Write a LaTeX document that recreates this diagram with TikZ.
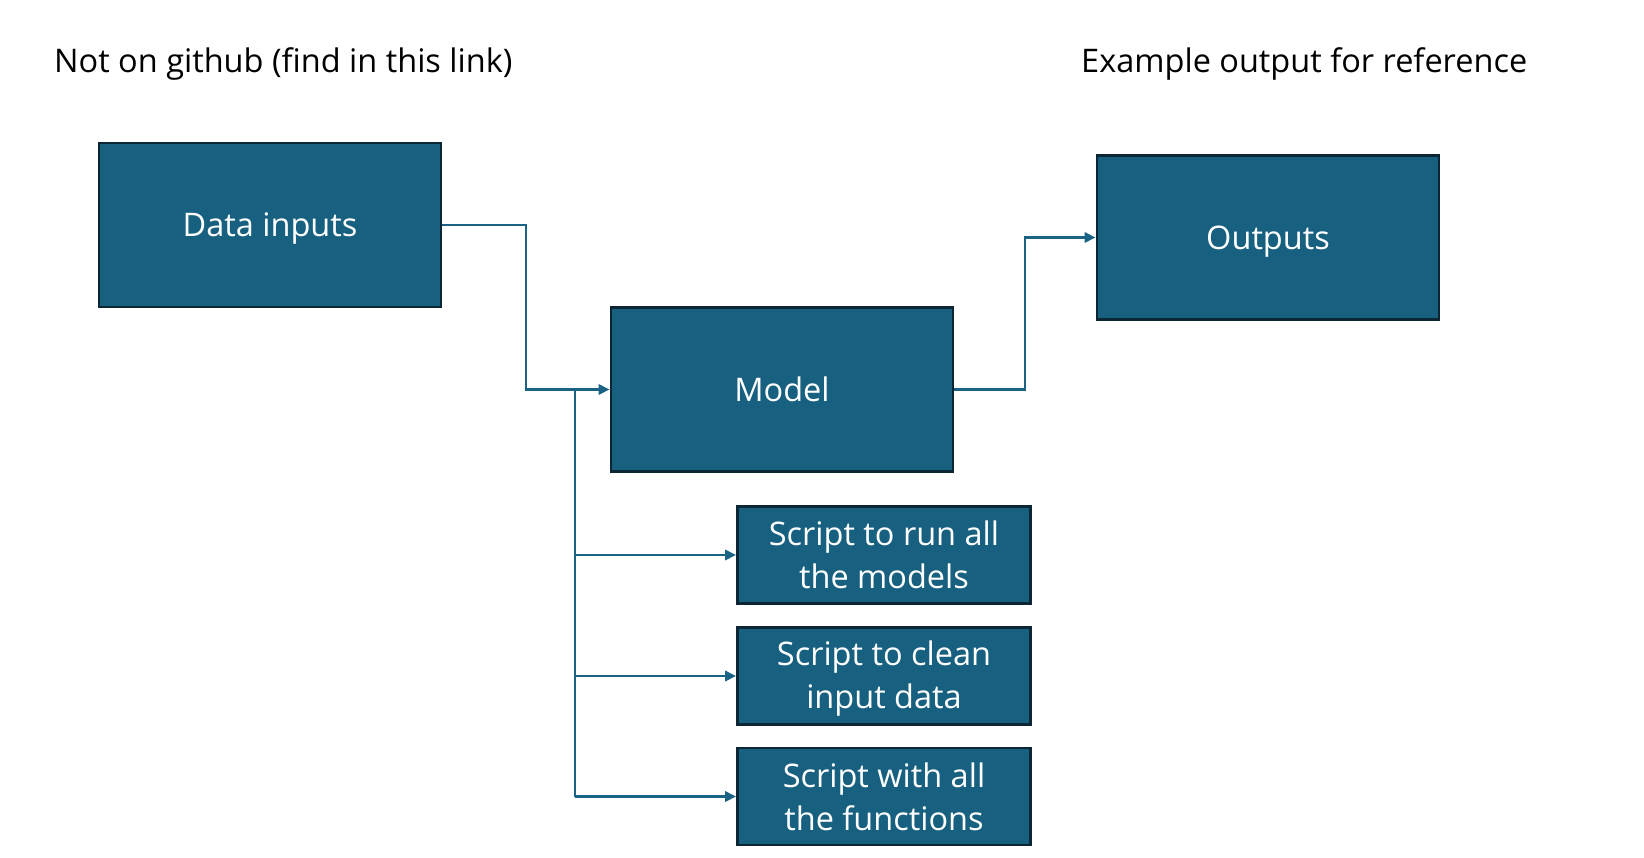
\documentclass[tikz,border=0pt]{standalone}
\usepackage{fontspec}
\setmainfont{Open Sans}
\usetikzlibrary{arrows.meta}
\definecolor{boxfill}{HTML}{17607F}
\definecolor{boxedge}{HTML}{0C2636}
\definecolor{linecol}{HTML}{1A6385}
\begin{document}
\begin{tikzpicture}[x=1pt,y=-1pt,
  bx/.style={draw=boxedge,line width=2.6pt,fill=boxfill,inner sep=0pt},
  lbl/.style={text=white,font=\fontsize{32.5}{43}\selectfont,align=center,inner sep=0pt},
  one/.style={lbl,text height=23.2pt,text depth=0pt},
  conn/.style={draw=linecol,line width=2.6pt},
  arr/.style={conn,-{Triangle[length=11pt,width=10pt]}},
  hdr/.style={font=\fontsize{32.5}{36}\selectfont,anchor=west,inner sep=0pt}]
\useasboundingbox (0,0) rectangle (1644,858);
\node[bx,minimum width=342pt,minimum height=164pt] (data) at (270,225) {};
\node[bx,minimum width=342pt,minimum height=164pt] (model) at (782,389.5) {};
\node[bx,minimum width=342pt,minimum height=164pt] (out) at (1268,237.5) {};
\node[bx,minimum width=293pt,minimum height=97pt] (s1) at (884,555) {};
\node[bx,minimum width=293pt,minimum height=97pt] (s2) at (884,676) {};
\node[bx,minimum width=293pt,minimum height=97pt] (s3) at (884,796.5) {};
\node[one] (tdata) at (data.center) {Data inputs};
\node[one] (tmodel) at (model.center) {Model};
\node[one] (tout) at (out.center) {Outputs};
\node[lbl] (ts1) at ([yshift=0]s1.center) {Script to run all\\the models};
\node[lbl] (ts2) at ([yshift=-2.5]s2.center) {Script to clean\\input data};
\node[lbl] (ts3) at ([yshift=-0.5]s3.center) {Script with all\\the functions};
\node[hdr] (h1) at (54,64) {Not on github (find in this link)};
\node[hdr] (h2) at (1081,64) {Example output for reference};
\coordinate (j) at (575,389.5);
\draw[arr] (data.east) -| (526,389.5) -- (model.west);
\draw[conn] (j) -- (575,796.5);
\draw[arr] (575,796.5) -- (s3.west);
\draw[arr] (j |- s1.west) -- (s1.west);
\draw[arr] (j |- s2.west) -- (s2.west);
\draw[arr] (model.east) -| (1025,237.5) -- (out.west);
\end{tikzpicture}
\end{document}
